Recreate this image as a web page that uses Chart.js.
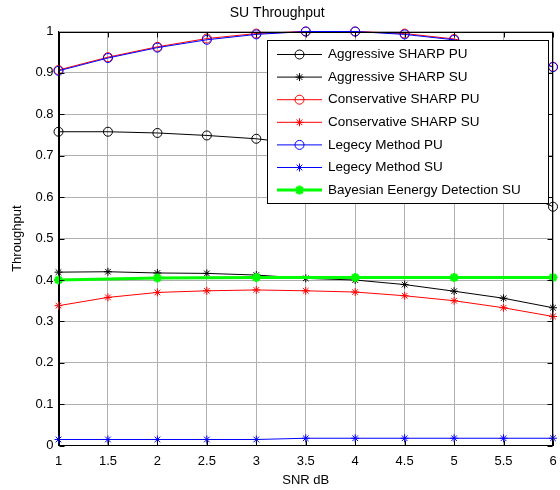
<!DOCTYPE html>
<html>
<head>
<meta charset="utf-8">
<script src="https://cdn.jsdelivr.net/npm/chart.js@4.4.0/dist/chart.umd.min.js"></script>
<style>
  html, body { margin: 0; padding: 0; background: #fff; }
</style>
</head>
<body>
<canvas id="c" width="560" height="490"></canvas>
<script>
// x values (SNR dB)
const snr = [1, 1.5, 2, 2.5, 3, 3.5, 4, 4.5, 5, 5.5, 6];
const snrBayes = [1, 2, 3, 4, 5, 6];

// series values
const aggressivePU = [0.758, 0.758, 0.755, 0.749, 0.741, 0.727, 0.712, 0.692, 0.666, 0.630, 0.577];
const aggressiveSU = [0.419, 0.420, 0.417, 0.416, 0.412, 0.404, 0.400, 0.389, 0.373, 0.356, 0.333];
const conservativePU = [0.907, 0.938, 0.963, 0.983, 0.995, 1.0, 1.0, 0.995, 0.982, 0.955, 0.915];
const conservativeSU = [0.338, 0.358, 0.370, 0.374, 0.376, 0.374, 0.371, 0.362, 0.350, 0.333, 0.312];
const legacyPU = [0.905, 0.936, 0.961, 0.980, 0.993, 1.0, 1.0, 0.993, 0.980, 0.953, 0.914];
const legacySU = [0.015, 0.015, 0.015, 0.015, 0.015, 0.018, 0.018, 0.018, 0.018, 0.018, 0.018];
const bayesSU = [0.400, 0.405, 0.406, 0.406, 0.406, 0.406];

const seriesNames = [
  'Aggressive SHARP PU',
  'Aggressive SHARP SU',
  'Conservative SHARP PU',
  'Conservative SHARP SU',
  'Legecy Method PU',
  'Legecy Method SU',
  'Bayesian Eenergy Detection SU'
];

// tick labels
const xTicks = [1, 1.5, 2, 2.5, 3, 3.5, 4, 4.5, 5, 5.5, 6];
const yTicks = [0, 0.1, 0.2, 0.3, 0.4, 0.5, 0.6, 0.7, 0.8, 0.9, 1];

const FONT = 'Arial, "Liberation Sans", sans-serif';

function pts(xs, ys) {
  return xs.map((x, i) => ({ x: x, y: ys[i] }));
}

function series(i, xs, ys, color, style, extra) {
  return Object.assign({
    label: seriesNames[i],
    data: pts(xs, ys),
    borderColor: color,
    backgroundColor: 'rgba(0,0,0,0)',
    borderWidth: 1,
    pointStyle: style,
    pointRadius: style === 'circle' ? 4.5 : 4,
    pointBorderWidth: 1,
    pointBorderColor: color,
    pointBackgroundColor: 'rgba(0,0,0,0)',
    tension: 0,
    clip: false,
    order: 10 - i
  }, extra || {});
}

const datasets = [
  series(0, snr, aggressivePU, '#000000', 'circle'),
  series(1, snr, aggressiveSU, '#000000', 'star'),
  series(2, snr, conservativePU, '#ff0000', 'circle'),
  series(3, snr, conservativeSU, '#ff0000', 'star'),
  series(4, snr, legacyPU, '#0000ff', 'circle'),
  series(5, snr, legacySU, '#0000ff', 'star'),
  series(6, snrBayes, bayesSU, '#00ff00', 'star', { borderWidth: 3, pointBorderWidth: 2.5, pointRadius: 4.5 })
];

// box, inward ticks and in-plot legend, MATLAB style
const matlabLook = {
  id: 'matlabLook',
  afterDatasetsDraw(chart) {
    const ctx = chart.ctx;
    const a = chart.chartArea;
    const xs = chart.scales.x, ys = chart.scales.y;
    const L = Math.round(a.left) + 0.5, R = Math.round(a.right) - 0.5;
    const T = Math.round(a.top) + 0.5, B = Math.round(a.bottom) - 0.5;
    ctx.save();
    ctx.strokeStyle = '#000';
    ctx.lineWidth = 1;
    ctx.beginPath();
    xTicks.forEach(v => {
      const px = Math.round(xs.getPixelForValue(v)) + 0.5;
      ctx.moveTo(px, B); ctx.lineTo(px, B - 5);
      ctx.moveTo(px, T); ctx.lineTo(px, T + 5);
    });
    yTicks.forEach(v => {
      const py = Math.round(ys.getPixelForValue(v)) + 0.5;
      ctx.moveTo(L, py); ctx.lineTo(L + 5, py);
      ctx.moveTo(R, py); ctx.lineTo(R - 5, py);
    });
    ctx.stroke();
    ctx.strokeRect(L, T, R - L, B - T);

    // legend box
    const box = { left: 267.5, top: 40.5, right: 548.5, bottom: 203.5 };
    ctx.fillStyle = '#fff';
    ctx.fillRect(box.left, box.top, box.right - box.left, box.bottom - box.top);
    ctx.strokeStyle = '#000';
    ctx.lineWidth = 1;
    ctx.strokeRect(box.left, box.top, box.right - box.left, box.bottom - box.top);

    ctx.font = '13.5px ' + FONT;
    ctx.textBaseline = 'middle';
    ctx.textAlign = 'left';
    chart.data.datasets.forEach((ds, i) => {
      const y = 54.5 + i * 22.6;
      const x0 = 277, x1 = 322, xm = 299.5;
      ctx.strokeStyle = ds.borderColor;
      ctx.lineWidth = ds.borderWidth;
      ctx.beginPath();
      ctx.moveTo(x0, y); ctx.lineTo(x1, y);
      ctx.stroke();
      ctx.lineWidth = ds.pointBorderWidth;
      const r = ds.pointRadius;
      ctx.beginPath();
      if (ds.pointStyle === 'circle') {
        ctx.arc(xm, y, r, 0, Math.PI * 2);
      } else {
        ctx.moveTo(xm - r, y); ctx.lineTo(xm + r, y);
        ctx.moveTo(xm, y - r); ctx.lineTo(xm, y + r);
        const d = r * 0.707;
        ctx.moveTo(xm - d, y - d); ctx.lineTo(xm + d, y + d);
        ctx.moveTo(xm - d, y + d); ctx.lineTo(xm + d, y - d);
      }
      ctx.stroke();
      ctx.fillStyle = '#000';
      ctx.fillText(ds.label, 328, y);
    });
    ctx.restore();
  }
};

new Chart(document.getElementById('c').getContext('2d'), {
  type: 'line',
  data: { datasets: datasets },
  options: {
    responsive: false,
    devicePixelRatio: 1,
    animation: false,
    layout: { padding: { left: 0, right: 5.5, top: 0, bottom: 0 } },
    plugins: {
      legend: { display: false },
      tooltip: { enabled: false },
      title: {
        display: true,
        text: 'SU Throughput',
        color: '#000',
        font: { family: FONT, size: 14, weight: 'normal' },
        padding: { top: 5, bottom: 9.7 }
      }
    },
    scales: {
      x: {
        type: 'linear',
        min: 1,
        max: 6,
        afterBuildTicks: s => { s.ticks = xTicks.map(v => ({ value: v })); },
        afterFit: s => { s.height = 44.3; },
        ticks: {
          color: '#000',
          font: { family: FONT, size: 13 },
          padding: 0,
          maxRotation: 0,
          callback: v => String(v)
        },
        grid: { color: '#b0b0b0', lineWidth: 1, drawTicks: true, tickLength: 8, tickColor: 'rgba(0,0,0,0)' },
        border: { color: '#000', width: 1 },
        title: {
          display: true,
          text: 'SNR dB',
          color: '#000',
          font: { family: FONT, size: 13 },
          padding: { top: 0, bottom: 2 }
        }
      },
      y: {
        type: 'linear',
        min: 0,
        max: 1,
        afterBuildTicks: s => { s.ticks = yTicks.map(v => ({ value: v })); },
        afterFit: s => { s.width = 58.5; },
        ticks: {
          color: '#000',
          font: { family: FONT, size: 13 },
          padding: 5,
          callback: v => String(v)
        },
        grid: { color: '#b0b0b0', lineWidth: 1, drawTicks: false },
        border: { color: '#000', width: 1 },
        title: {
          display: true,
          text: 'Throughput',
          color: '#000',
          font: { family: FONT, size: 13 },
          padding: { top: 10, bottom: 0 }
        }
      }
    }
  },
  plugins: [matlabLook]
});
</script>
</body>
</html>
